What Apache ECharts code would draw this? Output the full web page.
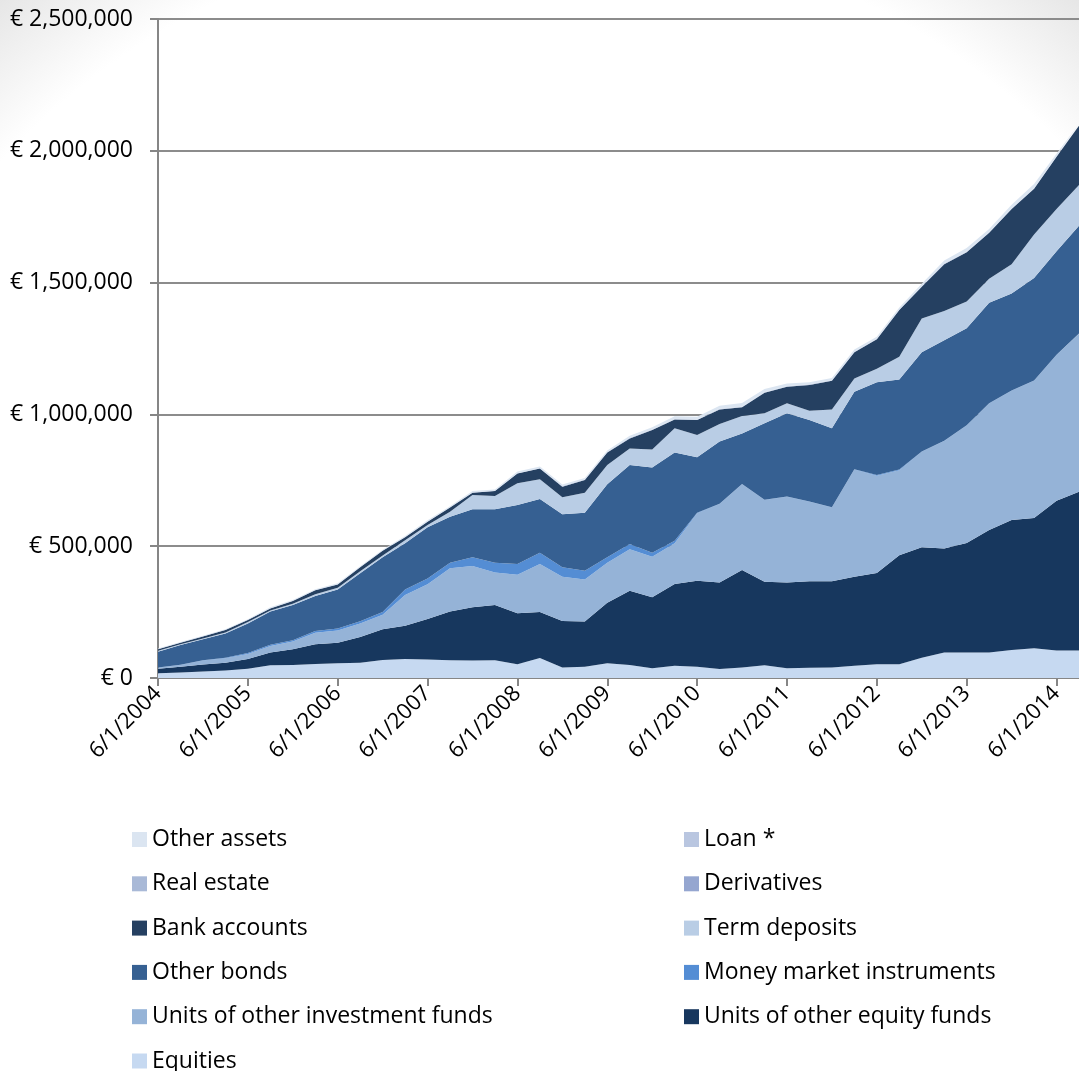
<!DOCTYPE html>
<html>
<head>
<meta charset="utf-8">
<script src="https://cdn.jsdelivr.net/npm/echarts@6/dist/echarts.min.js"></script>
<style>
  html, body { margin: 0; padding: 0; background: #fff; }
  #main { width: 1079px; height: 1071px; }
</style>
</head>
<body>
<div id="main"></div>
<script>
(function () {

  // quarters, 6/1/2004 .. 9/1/2014
  let quarters = [
    '6/1/2004', '9/1/2004', '12/1/2004', '3/1/2005', '6/1/2005', '9/1/2005', '12/1/2005', '3/1/2006',
    '6/1/2006', '9/1/2006', '12/1/2006', '3/1/2007', '6/1/2007', '9/1/2007', '12/1/2007', '3/1/2008',
    '6/1/2008', '9/1/2008', '12/1/2008', '3/1/2009', '6/1/2009', '9/1/2009', '12/1/2009', '3/1/2010',
    '6/1/2010', '9/1/2010', '12/1/2010', '3/1/2011', '6/1/2011', '9/1/2011', '12/1/2011', '3/1/2012',
    '6/1/2012', '9/1/2012', '12/1/2012', '3/1/2013', '6/1/2013', '9/1/2013', '12/1/2013', '3/1/2014',
    '6/1/2014', '9/1/2014'
  ];

  // values in thousands of euros
  let equities = [18, 21, 25, 28, 35, 48, 49, 53, 56, 58, 68, 72, 70, 67, 66, 67, 52, 76, 40, 43, 56, 49, 37, 46, 43, 34, 40, 48, 37, 39, 40, 46, 52, 52, 77, 97, 97, 97, 106, 113, 104, 104];
  let equityFunds = [17, 22, 26, 30, 37, 49, 60, 75, 78, 98, 117, 126, 154, 185, 202, 210, 194, 174, 176, 171, 229, 282, 269, 311, 326, 328, 370, 317, 325, 328, 327, 338, 346, 414, 419, 394, 415, 464, 493, 494, 568, 603];
  let investFunds = [4, 6, 15, 17, 19, 24, 29, 44, 46, 51, 55, 117, 132, 164, 157, 123, 146, 182, 168, 160, 152, 157, 154, 154, 256, 298, 325, 310, 326, 302, 280, 407, 369, 322, 362, 408, 446, 480, 491, 521, 553, 599];
  let moneyMarket = [1, 1, 1, 2, 4, 5, 5, 6, 8, 8, 10, 21, 21, 21, 33, 37, 40, 43, 36, 33, 21, 20, 15, 10, 2, 1, 1, 1, 1, 1, 1, 1, 3, 3, 1, 1, 1, 1, 1, 1, 1, 1];
  let otherBonds = [60, 75, 80, 92, 112, 126, 134, 133, 148, 182, 208, 175, 195, 175, 182, 203, 224, 204, 201, 220, 277, 300, 324, 334, 210, 236, 192, 290, 315, 309, 299, 294, 352, 341, 377, 381, 368, 382, 368, 388, 393, 409];
  let termDeposits = [3, 3, 3, 4, 5, 4, 5, 7, 6, 8, 7, 12, 8, 19, 54, 50, 83, 75, 65, 76, 73, 63, 68, 92, 85, 67, 66, 38, 38, 35, 72, 50, 51, 87, 128, 111, 101, 91, 111, 165, 160, 154];
  let bankAccounts = [6, 6, 7, 9, 8, 8, 10, 15, 13, 15, 18, 11, 13, 16, 9, 19, 37, 41, 40, 48, 47, 38, 74, 34, 57, 55, 33, 78, 63, 98, 109, 100, 112, 177, 120, 178, 187, 174, 209, 174, 198, 225];
  let derivatives = [0, 0, 0, 0, 0, 0, 0, 0, 0, 0, 0, 0, 0, 0, 0, 0, 0, 0, 0, 0, 0, 0, 0, 0, 0, 0, 0, 0, 0, 0, 0, 0, 0, 0, 0, 0, 0, 0, 0, 0, 0, 0];
  let realEstate = [1, 1, 1, 1, 1, 1, 1, 1, 1, 1, 1, 1, 1, 1, 1, 1, 1, 1, 1, 1, 1, 1, 1, 1, 1, 1, 1, 1, 1, 1, 1, 1, 1, 1, 1, 1, 1, 1, 1, 1, 1, 1];
  let loans = [0, 0, 0, 0, 0, 0, 0, 0, 0, 0, 0, 0, 0, 0, 0, 0, 0, 0, 1, 1, 1, 1, 1, 1, 1, 1, 1, 1, 1, 1, 1, 1, 1, 1, 1, 1, 1, 1, 1, 1, 1, 1];
  let otherAssets = [2, 2, 2, 2, 2, 3, 3, 3, 3, 3, 3, 4, 4, 4, 5, 5, 6, 6, 6, 6, 6, 8, 8, 10, 10, 12, 14, 12, 10, 8, 8, 8, 8, 8, 10, 12, 14, 12, 14, 16, 10, 6];

  // bottom to top
  let layers = [
    { name: 'Equities', data: equities, color: '#c6d9f1' },
    { name: 'Units of other equity funds', data: equityFunds, color: '#17375e' },
    { name: 'Units of other investment funds', data: investFunds, color: '#95b3d7' },
    { name: 'Money market instruments', data: moneyMarket, color: '#548dd4' },
    { name: 'Other bonds', data: otherBonds, color: '#366092' },
    { name: 'Term deposits', data: termDeposits, color: '#b9cde5' },
    { name: 'Bank accounts', data: bankAccounts, color: '#254061' },
    { name: 'Derivatives', data: derivatives, color: '#95a6d0' },
    { name: 'Real estate', data: realEstate, color: '#a9b9d7' },
    { name: 'Loan *', data: loans, color: '#b9c6e0' },
    { name: 'Other assets', data: otherAssets, color: '#dbe5f1' }
  ];

  // legend reads top-left to bottom-right, reverse of the stack
  let legendOrder = [
    'Other assets', 'Loan *',
    'Real estate', 'Derivatives',
    'Bank accounts', 'Term deposits',
    'Other bonds', 'Money market instruments',
    'Units of other investment funds', 'Units of other equity funds',
    'Equities'
  ];

  let font = '"Open Sans", "Noto Sans", sans-serif';

  // one legend per item so the two columns line up
  let legends = legendOrder.map(function (name, i) {
    return {
      data: [name],
      left: i % 2 === 0 ? 132 : 684,
      top: 828 + Math.floor(i / 2) * 44.3,
      padding: 0,
      itemWidth: 15,
      itemHeight: 15,
      itemGap: 0,
      icon: 'rect',
      selectedMode: false,
      textStyle: { color: '#000', fontSize: 23, fontFamily: font, lineHeight: 15, padding: [0, 0, 0, 0] }
    };
  });

  let myChart = echarts.init(document.getElementById('main'));

  let option = {
    backgroundColor: new echarts.graphic.RadialGradient(0.5, 0.62, 0.8, [
      { offset: 0, color: '#ffffff' },
      { offset: 0.86, color: '#ffffff' },
      { offset: 1, color: '#e6e6e6' }
    ]),
    animation: false,
    grid: {
      left: 158,
      right: -4,
      top: 19,
      bottom: 393
    },
    legend: legends,
    xAxis: {
      type: 'category',
      boundaryGap: false,
      data: quarters,
      axisLine: { lineStyle: { color: '#868686', width: 2 } },
      axisTick: {
        show: true,
        interval: 3,
        length: 8,
        lineStyle: { color: '#868686', width: 2 }
      },
      axisLabel: {
        interval: 3,
        rotate: 45,
        margin: 12,
        color: '#000',
        fontSize: 22,
        fontFamily: font
      },
      splitLine: { show: false }
    },
    yAxis: {
      type: 'value',
      min: 0,
      max: 2500,
      interval: 500,
      axisLine: { show: true, lineStyle: { color: '#868686', width: 2 } },
      axisTick: { show: true, length: 8, lineStyle: { color: '#868686', width: 2 } },
      axisLabel: {
        margin: 25,
        color: '#000',
        fontSize: 23,
        fontFamily: font,
        formatter: function (v) {
          return '€ ' + (v * 1000).toLocaleString('en-US');
        }
      },
      splitLine: { lineStyle: { color: '#8c8c8c', width: 2 } }
    },
    series: layers.map(function (l) {
      return {
        name: l.name,
        type: 'line',
        stack: 'total',
        data: l.data,
        symbol: 'none',
        smooth: false,
        lineStyle: { width: 0 },
        itemStyle: { color: l.color },
        areaStyle: { color: l.color, opacity: 1 }
      };
    })
  };

  myChart.setOption(option);
  window.addEventListener('resize', function () {
    myChart.resize();
  });

})();
</script>
</body>
</html>
